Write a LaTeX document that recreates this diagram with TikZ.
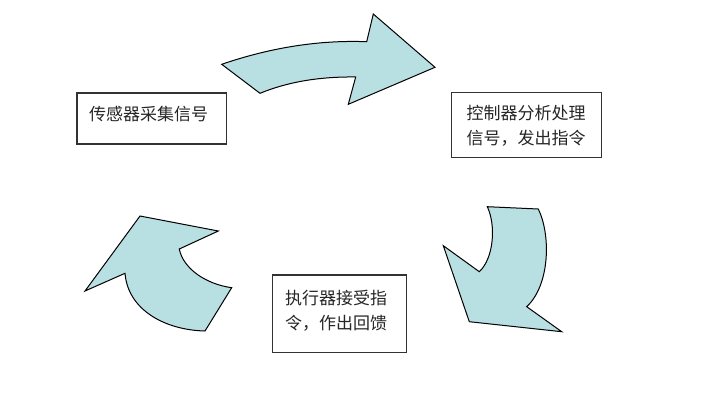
\documentclass[tikz,border=0pt]{standalone}
\usepackage{fontspec}
\newfontfamily\cjk{Noto Sans CJK SC}
\definecolor{arrfill}{RGB}{184,223,225}
\definecolor{boxline}{RGB}{50,50,50}
\tikzset{
  bigarrow/.style={fill=arrfill, draw=black, line width=1pt, line join=miter},
  textbox/.style={draw=boxline, line width=1.3pt, fill=white, inner sep=0pt},
  boxtext/.style={font=\cjk\fontsize{17}{25}\selectfont, align=left, anchor=base west, inner sep=0pt, text=black!85}
}
\begin{document}
\begin{tikzpicture}[x=1pt,y=-1pt]
\useasboundingbox (0,0) rectangle (702,397);
\fill[white] (0,0) rectangle (702,397);
% boxes
\node[textbox, minimum width=149.5pt, minimum height=51pt] (b1) at (151.8,118.5) {};
\node[textbox, minimum width=150pt, minimum height=65pt] (b2) at (526.7,125.2) {};
\node[textbox, minimum width=134.4pt, minimum height=77.7pt] (b3) at (339.5,313.9) {};
\node[boxtext] (t1) at (89,120) {传感器采集信号};
\node[boxtext] (t2) at (466.5,144) {控制器分析处理\\信号，发出指令};
\node[boxtext] (t3) at (285,329) {执行器接受指\\令，作出回馈};
% top arrow
\path[bigarrow] (221.7,64.3) .. controls (271.1,47.4) and (319.4,39.9) .. (366.7,41.7)
  -- (373.3,14) -- (435,67.3) -- (348.3,104.3) -- (355.7,77)
  .. controls (319.6,76.5) and (287.7,81.9) .. (260,93.3) -- cycle;
% right arrow
\path[bigarrow] (487.3,206.7) -- (538.3,209) .. controls (551,235) and (550,285) .. (526.7,306.7)
  -- (561.7,331.7) -- (469.3,321.7) -- (443.3,245.7) -- (479.3,271.7)
  .. controls (494,258) and (496,225) .. (487.3,206.7) -- cycle;
% left arrow
\path[bigarrow] (140,216) -- (218.3,231) -- (179.3,249)
  .. controls (183,268) and (205,284) .. (231.7,287.7) -- (205,331)
  .. controls (165,330) and (128,310) .. (125,273.3) -- (85,291) -- cycle;
\end{tikzpicture}
\end{document}
